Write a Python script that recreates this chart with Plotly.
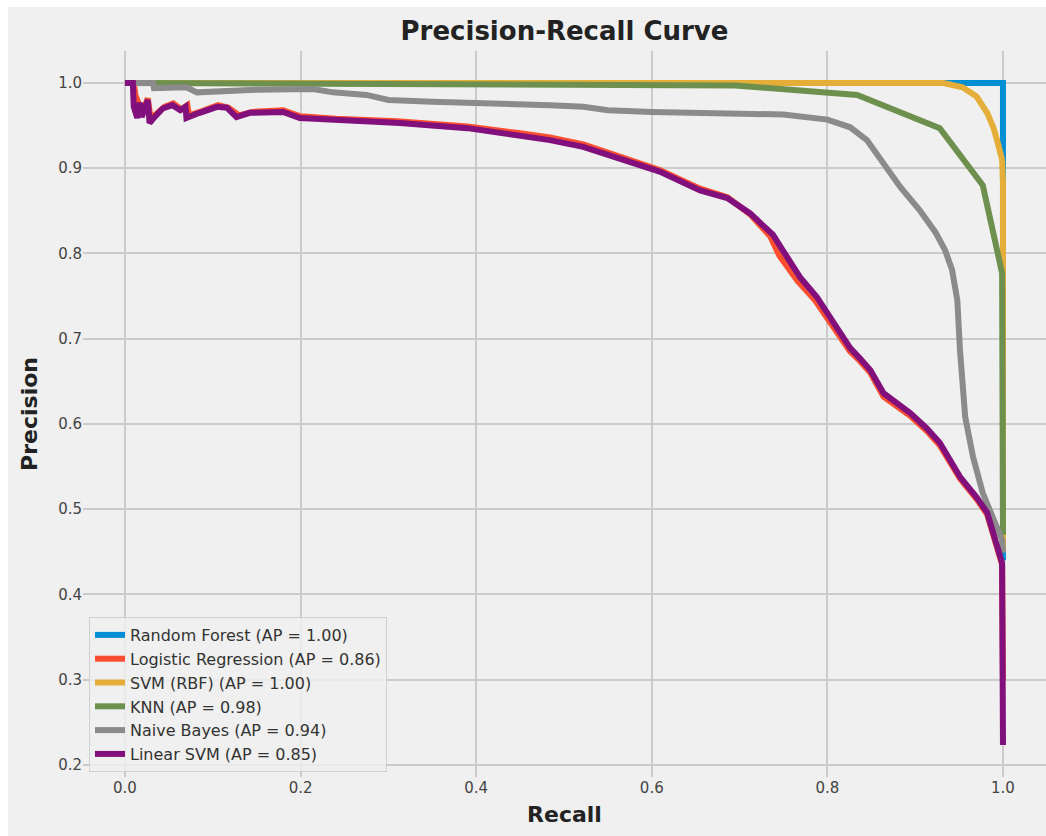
import plotly.graph_objects as go

# ---- data ----
rf_recall = [0.0, 1.0, 1.0]
rf_precision = [1.0, 1.0, 0.44]

lr_recall = [0.0, 0.010, 0.012, 0.016, 0.020, 0.026, 0.029, 0.034, 0.045, 0.055, 0.064, 0.071, 0.073,
             0.088, 0.106, 0.118, 0.130, 0.145, 0.180, 0.200, 0.240, 0.310, 0.390, 0.450, 0.484, 0.522,
             0.579, 0.609, 0.655, 0.686, 0.712, 0.735, 0.745, 0.766, 0.786, 0.803, 0.826, 0.837, 0.849,
             0.864, 0.894, 0.913, 0.928, 0.951, 0.970, 0.982, 0.989, 0.999, 1.0]
lr_precision = [1.0, 1.0, 0.985, 0.975, 0.965, 0.982, 0.960, 0.962, 0.972, 0.976, 0.969, 0.974, 0.962,
                0.967, 0.974, 0.971, 0.962, 0.966, 0.968, 0.961, 0.958, 0.955, 0.949, 0.941, 0.936, 0.928,
                0.909, 0.898, 0.876, 0.866, 0.846, 0.820, 0.798, 0.768, 0.745, 0.720, 0.685, 0.674, 0.660,
                0.632, 0.610, 0.592, 0.575, 0.536, 0.512, 0.494, 0.470, 0.435, 0.30]

svm_recall = [0.0, 0.932, 0.954, 0.970, 0.982, 0.989, 0.994, 0.999, 1.0, 1.0]
svm_precision = [1.0, 1.0, 0.995, 0.984, 0.965, 0.948, 0.930, 0.910, 0.883, 0.45]

knn_recall = [0.0, 0.30, 0.50, 0.695, 0.834, 0.928, 0.977, 0.999, 1.0]
knn_precision = [1.0, 0.999, 0.998, 0.997, 0.986, 0.947, 0.880, 0.777, 0.47]

nb_recall = [0.0, 0.032, 0.033, 0.070, 0.082, 0.100, 0.150, 0.214, 0.237, 0.275, 0.300, 0.350, 0.400,
             0.450, 0.484, 0.522, 0.550, 0.600, 0.680, 0.750, 0.800, 0.826, 0.845, 0.863, 0.883, 0.905,
             0.923, 0.934, 0.942, 0.948, 0.951, 0.957, 0.966, 0.977, 0.989, 0.999, 1.0]
nb_precision = [1.0, 1.0, 0.994, 0.995, 0.989, 0.990, 0.992, 0.993, 0.989, 0.986, 0.980, 0.978, 0.977,
                0.975, 0.974, 0.972, 0.968, 0.966, 0.965, 0.963, 0.957, 0.948, 0.933, 0.906, 0.878, 0.851,
                0.825, 0.804, 0.781, 0.745, 0.687, 0.608, 0.561, 0.519, 0.491, 0.464, 0.449]

lsvm_recall = [0.0, 0.009, 0.010, 0.014, 0.017, 0.019, 0.026, 0.028, 0.032, 0.043, 0.054, 0.063, 0.069,
               0.070, 0.085, 0.105, 0.116, 0.127, 0.142, 0.180, 0.199, 0.237, 0.313, 0.390, 0.450, 0.484,
               0.522, 0.579, 0.609, 0.655, 0.686, 0.712, 0.738, 0.749, 0.769, 0.788, 0.805, 0.826, 0.837,
               0.849, 0.864, 0.894, 0.913, 0.928, 0.951, 0.970, 0.982, 0.989, 0.999, 1.0]
lsvm_precision = [1.0, 1.0, 0.972, 0.959, 0.977, 0.960, 0.980, 0.953, 0.958, 0.970, 0.974, 0.968, 0.972,
                  0.959, 0.965, 0.972, 0.971, 0.960, 0.965, 0.966, 0.959, 0.957, 0.953, 0.947, 0.939, 0.933,
                  0.925, 0.906, 0.896, 0.874, 0.865, 0.847, 0.822, 0.804, 0.772, 0.749, 0.722, 0.689, 0.677,
                  0.663, 0.636, 0.613, 0.595, 0.578, 0.538, 0.514, 0.496, 0.472, 0.437, 0.2235]

series = [
    ("Random Forest (AP = 1.00)", rf_recall, rf_precision, "#008fd5"),
    ("Logistic Regression (AP = 0.86)", lr_recall, lr_precision, "#fc4f30"),
    ("SVM (RBF) (AP = 1.00)", svm_recall, svm_precision, "#e5ae38"),
    ("KNN (AP = 0.98)", knn_recall, knn_precision, "#6d904f"),
    ("Naive Bayes (AP = 0.94)", nb_recall, nb_precision, "#8b8b8b"),
    ("Linear SVM (AP = 0.85)", lsvm_recall, lsvm_precision, "#810f7c"),
]

x_ticks = [0.0, 0.2, 0.4, 0.6, 0.8, 1.0]
y_ticks = [0.2, 0.3, 0.4, 0.5, 0.6, 0.7, 0.8, 0.9, 1.0]

FONT = "DejaVu Sans"
BG = "#f0f0f0"

fig = go.Figure()
for name, r, p, c in series:
    fig.add_trace(go.Scatter(x=r, y=p, mode="lines", name=name,
                             line=dict(color=c, width=6)))

W, H = 1046, 836
L, R, T, B = 83, 0, 51, 59
pw, ph = W - L - R, H - T - B

def px_x(px):
    return (px - L) / pw

def px_y(py):
    return (H - B - py) / ph

fig.update_layout(
    width=W, height=H,
    margin=dict(l=L, r=R, t=T, b=B, pad=0),
    paper_bgcolor=BG, plot_bgcolor=BG,
    font=dict(family=FONT, color="#333333", size=15),
    title=dict(text="<b>Precision-Recall Curve</b>", x=0.5, xref="paper", xanchor="center",
               y=1 - 31 / H, yanchor="middle", yref="container",
               font=dict(size=26, color="#222222", family=FONT)),
    xaxis=dict(range=[-0.0478, 1.049], tickvals=x_ticks, ticktext=[f"{v:.1f}" for v in x_ticks],
               showgrid=True, gridcolor="#cbcbcb", gridwidth=1.5, zeroline=False, showline=False,
               ticks="", tickfont=dict(size=15, color="#444444"),
               title=dict(text="<b>Recall</b>", font=dict(size=22, color="#222222"), standoff=10)),
    yaxis=dict(range=[0.1859, 1.0375], tickvals=y_ticks, ticktext=[f"{v:.1f}" for v in y_ticks],
               showgrid=True, gridcolor="#cbcbcb", gridwidth=1.5, zeroline=False, showline=False,
               ticks="", tickfont=dict(size=15, color="#444444"),
               title=dict(text="<b>Precision</b>", font=dict(size=22, color="#222222"), standoff=14)),
    legend=dict(x=px_x(89), y=px_y(772), xanchor="left", yanchor="bottom",
                bgcolor="rgba(240,240,240,0.8)", bordercolor="#d0d0d0", borderwidth=1,
                font=dict(size=16, color="#333333", family=FONT)),
    shapes=[
        dict(type="rect", xref="paper", yref="paper", x0=px_x(-5), x1=px_x(W + 5),
             y0=px_y(7), y1=px_y(-5), fillcolor="white", line=dict(width=0), layer="below"),
        dict(type="rect", xref="paper", yref="paper", x0=px_x(-5), x1=px_x(8),
             y0=px_y(H + 5), y1=px_y(-5), fillcolor="white", line=dict(width=0), layer="below"),
    ],
)

fig.write_html("out.html")
